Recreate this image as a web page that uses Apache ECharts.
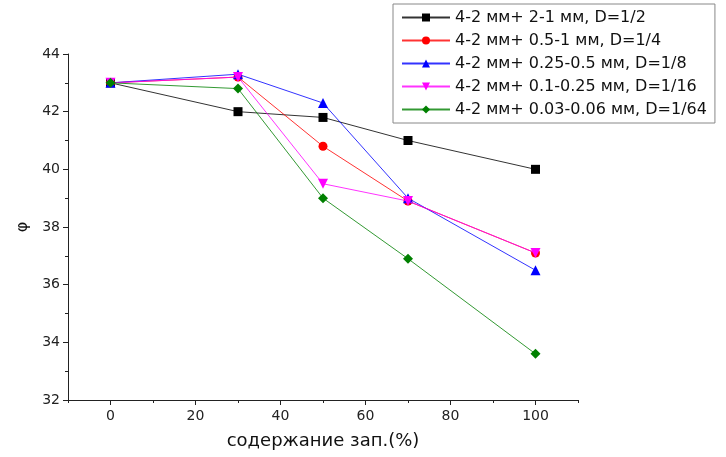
<!DOCTYPE html>
<html style="height: 100%">
<head>
    <meta charset="utf-8">
</head>
<body style="height: 100%; margin: 0; background: #fff">
<div id="container" style="width: 726px; height: 457px"></div>
<script type="text/javascript" src="https://fastly.jsdelivr.net/npm/echarts@6.0.0/dist/echarts.min.js"></script>
<script type="text/javascript">
    var xValues = [0, 30, 50, 70, 100];
    var seriesNames = [
        '4-2 мм+ 2-1 мм, D=1/2',
        '4-2 мм+ 0.5-1 мм, D=1/4',
        '4-2 мм+ 0.25-0.5 мм, D=1/8',
        '4-2 мм+ 0.1-0.25 мм, D=1/16',
        '4-2 мм+ 0.03-0.06 мм, D=1/64'
    ];
    var d12 = [43.0, 42.0, 41.8, 41.0, 40.0];
    var d14 = [43.0, 43.2, 40.8, 38.9, 37.1];
    var d18 = [43.0, 43.3, 42.3, 39.0, 36.5];
    var d116 = [43.0, 43.2, 39.5, 38.9, 37.1];
    var d164 = [43.0, 42.8, 39.0, 36.9, 33.6];
    var xLabelTicks = [0, 20, 40, 60, 80, 100];
    var xMinorTicks = [-10, 10, 30, 50, 70, 90, 110];

    var colors = ['#000000', '#ff0000', '#0000ff', '#ff00ff', '#008000'];
    var symbols = ['rect', 'circle', 'triangle', 'triangle', 'diamond'];
    var sizes = [9, 9, 10, 10, 10];
    var rotates = [0, 0, 0, 180, 0];
    var allData = [d12, d14, d18, d116, d164];

    var dom = document.getElementById('container');
    var myChart = echarts.init(dom, null, { renderer: 'canvas' });

    var font = 'DejaVu Sans, sans-serif';

    var option = {
        animation: false,
        backgroundColor: '#fff',
        textStyle: { fontFamily: font },
        grid: { left: 68, top: 54, right: 148, bottom: 57 },
        legend: {
            orient: 'vertical',
            left: 393,
            top: 4,
            padding: [5, 8, 5, 8],
            itemGap: 6,
            itemWidth: 48,
            itemHeight: 10,
            backgroundColor: '#fff',
            borderColor: '#888',
            borderWidth: 1,
            textStyle: { fontSize: 16, lineHeight: 17, color: '#111', fontFamily: font },
            data: seriesNames
        },
        xAxis: [
            {
                type: 'value',
                min: -10,
                max: 110,
                interval: 10,
                name: 'содержание зап.(%)',
                nameLocation: 'middle',
                nameGap: 32,
                nameTextStyle: { fontSize: 18, color: '#111', fontFamily: font },
                splitLine: { show: false },
                axisLine: { onZero: false, lineStyle: { color: '#222', width: 1 } },
                axisTick: { length: 5, customValues: xLabelTicks, lineStyle: { color: '#222' } },
                axisLabel: { customValues: xLabelTicks, fontSize: 14, color: '#222', margin: 9, fontFamily: font }
            },
            {
                type: 'value',
                position: 'bottom',
                min: -10,
                max: 110,
                interval: 10,
                splitLine: { show: false },
                axisLine: { show: false, onZero: false },
                axisTick: { length: 3, customValues: xMinorTicks, lineStyle: { color: '#222' } },
                axisLabel: { show: false }
            }
        ],
        yAxis: {
            type: 'value',
            min: 32,
            max: 44,
            interval: 2,
            name: 'φ',
            nameLocation: 'middle',
            nameGap: 32,
            nameTextStyle: { fontSize: 16, color: '#111', fontFamily: font },
            splitLine: { show: false },
            axisLine: { show: true, onZero: false, lineStyle: { color: '#222', width: 1 } },
            axisTick: { length: 5, lineStyle: { color: '#222' } },
            minorTick: { show: true, splitNumber: 2, length: 3, lineStyle: { color: '#222' } },
            axisLabel: { fontSize: 14, color: '#222', margin: 8, fontFamily: font }
        },
        series: allData.map(function (data, i) {
            return {
                type: 'line',
                name: seriesNames[i],
                xAxisIndex: 0,
                data: xValues.map(function (x, j) { return [x, data[j]]; }),
                symbol: symbols[i],
                symbolSize: sizes[i],
                symbolRotate: rotates[i],
                showAllSymbol: true,
                color: colors[i],
                itemStyle: { color: colors[i] },
                lineStyle: { color: colors[i], width: 1, opacity: 0.8 },
                z: 2 + i
            };
        })
    };

    myChart.setOption(option);
    window.addEventListener('resize', myChart.resize);
</script>
</body>
</html>
